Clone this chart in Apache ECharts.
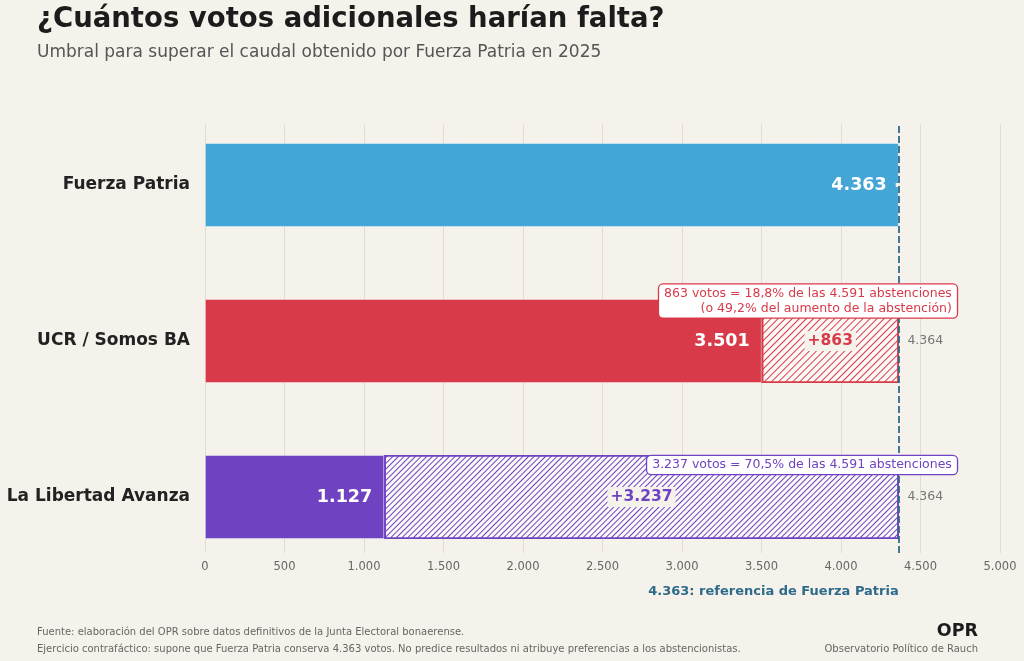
<!DOCTYPE html>
<html>
<head>
<meta charset="utf-8">
<script src="https://cdn.jsdelivr.net/npm/echarts@6/dist/echarts.min.js"></script>
<style>
  html, body { margin: 0; padding: 0; background: #f5f2eb; }
  #chart { width: 1024px; height: 661px; }
</style>
</head>
<body>
<div id="chart"></div>
<script>
// datos
var categorias = ['Fuerza Patria', 'UCR / Somos BA', 'La Libertad Avanza'];
var votos = [4363, 3501, 1127];
var faltan = [0, 863, 3237];
var umbral = 4364;
var referencia = 4363;
var notas = [
  '',
  '863 votos = 18,8% de las 4.591 abstenciones\n(o 49,2% del aumento de la abstención)',
  '3.237 votos = 70,5% de las 4.591 abstenciones'
];
var colores = ['#44a5d7', '#d93a4a', '#6f42c1'];
var xTicks = [0, 500, 1000, 1500, 2000, 2500, 3000, 3500, 4000, 4500, 5000];

var FONT = 'DejaVu Sans';
var BG = '#f5f2eb';

function fmt(v) {
  return String(v).replace(/\B(?=(\d{3})+(?!\d))/g, '.');
}

var chart = echarts.init(document.getElementById('chart'));

var votosData = votos.map(function (v, i) {
  return { value: v, itemStyle: { color: colores[i] } };
});
var faltanData = faltan.map(function (v, i) {
  return {
    value: v,
    itemStyle: {
      color: v ? '#fbfaf7' : 'transparent',
      borderColor: colores[i],
      borderWidth: v ? 1.6 : 0,
      decal: v ? {
        symbol: 'rect', symbolSize: 1,
        color: colores[i],
        dashArrayX: [1, 0],
        dashArrayY: i == 2 ? [1, 2.2] : [1, 3.2],
        rotation: -Math.PI / 4
      } : null
    },
    label: { color: colores[i] }
  };
});
var umbralData = [];
var notasData = [];
faltan.forEach(function (v, i) {
  if (!v) return;
  umbralData.push([umbral, categorias[i]]);
  notasData.push({
    value: [umbral, categorias[i]],
    label: {
      formatter: notas[i],
      color: colores[i],
      borderColor: colores[i],
      offset: [58, notas[i].indexOf('\n') > 0 ? -40 : -32]
    }
  });
});

chart.setOption({
  backgroundColor: BG,
  textStyle: { fontFamily: FONT },
  title: [{
    text: '¿Cuántos votos adicionales harían falta?',
    left: 32, top: 1,
    textStyle: { fontFamily: FONT, fontSize: 27.5, fontWeight: 'bold', color: '#1c1c1c' },
    subtext: 'Umbral para superar el caudal obtenido por Fuerza Patria en 2025',
    subtextStyle: { fontFamily: FONT, fontSize: 17, color: '#555555' },
    itemGap: 10
  }, {
    text: 'Fuente: elaboración del OPR sobre datos definitivos de la Junta Electoral bonaerense.',
    left: 32, top: 622,
    textStyle: { fontFamily: FONT, fontSize: 10, fontWeight: 'normal', color: '#666666' }
  }, {
    text: 'Ejercicio contrafáctico: supone que Fuerza Patria conserva 4.363 votos. No predice resultados ni atribuye preferencias a los abstencionistas.',
    left: 32, top: 639,
    textStyle: { fontFamily: FONT, fontSize: 10, fontWeight: 'normal', color: '#666666' }
  }, {
    text: 'OPR',
    right: 41, top: 617,
    textStyle: { fontFamily: FONT, fontSize: 17.5, fontWeight: 'bold', color: '#1c1c1c' }
  }, {
    text: 'Observatorio Político de Rauch',
    right: 41, top: 639,
    textStyle: { fontFamily: FONT, fontSize: 10, fontWeight: 'normal', color: '#666666' }
  }],
  grid: [
    { left: 205, right: 24, top: 107, height: 468 },
    { left: 205, right: 24, top: 124, bottom: 108 }
  ],
  xAxis: [{
    gridIndex: 0, type: 'value', min: 0, max: 5000,
    axisLine: { show: false }, axisTick: { show: false },
    axisLabel: { show: false }, splitLine: { show: false }
  }, {
    gridIndex: 1, type: 'value', min: 0, max: 5000, interval: 500,
    axisLine: { show: false }, axisTick: { show: false },
    splitLine: { show: true, lineStyle: { color: '#e1dcd2', width: 1 } },
    axisLabel: {
      margin: 8, fontSize: 11.5, color: '#666666', fontFamily: FONT,
      formatter: function (v) { return xTicks.indexOf(v) >= 0 ? fmt(v) : ''; }
    }
  }],
  yAxis: [{
    gridIndex: 0, type: 'category', data: categorias, inverse: true,
    axisLine: { show: false }, axisTick: { show: false },
    splitLine: { show: false },
    axisLabel: { margin: 15, fontSize: 17, fontWeight: 'bold', color: '#222222', fontFamily: FONT }
  }, {
    gridIndex: 1, type: 'value', min: 0, max: 1, show: false
  }],
  series: [{
    name: 'votos', type: 'bar', stack: 'total', barWidth: 84,
    xAxisIndex: 0, yAxisIndex: 0,
    itemStyle: { borderColor: 'rgba(255,255,255,0.55)', borderWidth: 0.8 },
    label: {
      show: true, position: 'insideRight', distance: 12,
      color: '#ffffff', fontSize: 17.5, fontWeight: 'bold', fontFamily: FONT,
      formatter: function (p) { return fmt(p.value); }
    },
    data: votosData
  }, {
    name: 'faltan', type: 'bar', stack: 'total', barWidth: 84,
    xAxisIndex: 0, yAxisIndex: 0,
    label: {
      show: true, position: 'inside',
      fontSize: 15.5, fontWeight: 'bold', fontFamily: FONT,
      backgroundColor: BG, padding: [2, 3],
      formatter: function (p) { return p.value ? '+' + fmt(p.value) : ''; }
    },
    data: faltanData
  }, {
    name: 'umbral', type: 'scatter', xAxisIndex: 0, yAxisIndex: 0,
    symbolSize: 1, itemStyle: { color: 'transparent', opacity: 1 }, silent: true,
    label: {
      show: true, position: 'right', distance: 8,
      fontSize: 12.5, color: '#777777', fontFamily: FONT,
      formatter: function (p) { return fmt(p.value[0]); }
    },
    data: umbralData
  }, {
    name: 'referencia', type: 'line', xAxisIndex: 1, yAxisIndex: 1,
    data: [], z: 10,
    markLine: {
      silent: true, symbol: 'none', z: 10,
      lineStyle: { color: '#2e6b8b', type: [7, 3], width: 1.8 },
      label: {
        show: true, position: 'start', align: 'right', distance: 32,
        fontSize: 13, fontWeight: 'bold', color: '#2e6b8b', fontFamily: FONT,
        formatter: fmt(referencia) + ': referencia de Fuerza Patria'
      },
      data: [{ xAxis: referencia }]
    }
  }, {
    name: 'notas', type: 'scatter', xAxisIndex: 0, yAxisIndex: 0,
    symbolSize: 1, itemStyle: { color: 'transparent', opacity: 1 }, silent: true, z: 20,
    label: {
      show: true, position: 'inside', align: 'right', verticalAlign: 'middle',
      fontSize: 12.5, lineHeight: 15, fontFamily: FONT,
      backgroundColor: '#ffffff', borderWidth: 1.3, borderRadius: 4,
      padding: [2, 5, 1, 5]
    },
    data: notasData
  }]
});
</script>
</body>
</html>
